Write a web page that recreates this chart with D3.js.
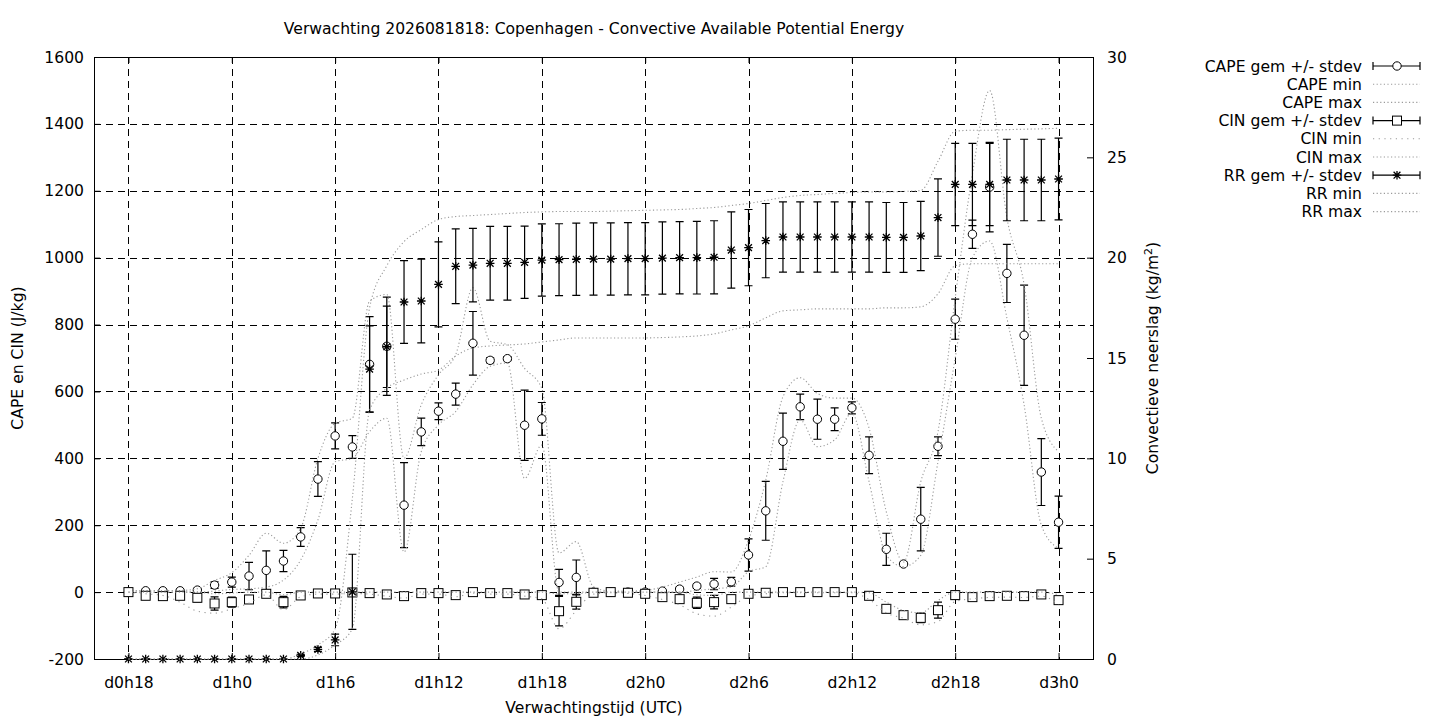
<!DOCTYPE html>
<html>
<head>
<meta charset="utf-8">
<script src="https://cdn.jsdelivr.net/npm/d3@7/dist/d3.min.js"></script>
<style>
  html, body { margin: 0; padding: 0; background: #fff; }
  svg { display: block; font-family: "DejaVu Sans", sans-serif; }
</style>
</head>
<body>
<svg id="chart" width="1440" height="720"></svg>
<script>
// ---- data (hourly, forecast hours since d0h0) ----
const hours = [18,19,20,21,22,23,24,25,26,27,28,29,30,31,32,33,34,35,36,37,38,39,40,41,42,43,44,45,46,47,48,49,50,51,52,53,54,55,56,57,58,59,60,61,62,63,64,65,66,67,68,69,70,71,72];
const tickHours = [18,24,30,36,42,48,54,60,66,72];
const tickLabels = ["d0h18","d1h0","d1h6","d1h12","d1h18","d2h0","d2h6","d2h12","d2h18","d3h0"];
const leftTicks = [-200,0,200,400,600,800,1000,1200,1400,1600];
const rightTicks = [0,5,10,15,20,25,30];

const capeMean = [0,4,4,4,6,21,30,48,65,93,165,338,467,434,681,735,260,479,541,592,744,693,698,499,518,29,44,0,0,0,0,3,9,18,24,31,111,243,451,554,517,517,551,409,128,84,218,436,816,1070,1211,953,768,359,209];
const capeSd   = [0,3,3,3,5,10,15,41,58,32,28,52,39,34,143,147,127,41,25,33,95,8,6,105,49,39,52,1,1,1,1,3,5,6,17,13,48,88,84,38,60,34,18,55,48,5,95,28,60,42,134,87,150,100,78];
const capeMin  = [0,0,0,0,0,3,8,10,15,36,96,216,390,400,480,520,120,420,500,540,620,675,685,340,440,0,0,0,0,0,0,0,0,5,10,15,61,76,330,515,435,455,535,330,110,76,110,390,700,1000,1050,820,560,200,130];
const capeMax  = [5,5,5,5,10,35,58,110,176,146,191,400,505,520,870,890,400,560,650,710,910,750,740,669,609,117,151,16,3,3,5,15,30,45,61,60,156,335,584,641,594,580,580,490,240,90,330,480,880,1250,1500,1120,920,520,420];

const cinMean = [0,-11,-12,-11,-17,-34,-30,-22,-5,-30,-10,-4,-4,-1,-3,-7,-12,-3,-3,-9,0,-3,-3,-7,-9,-57,-29,-2,0,-2,-5,-15,-21,-32,-30,-21,-5,-2,0,0,0,0,0,-11,-50,-69,-77,-54,-9,-15,-12,-11,-12,-7,-24];
const cinSd   = [0,3,4,4,12,20,15,10,4,17,3,2,2,2,2,3,4,2,2,3,2,2,2,3,3,44,22,2,1,1,3,5,6,17,20,10,3,2,1,1,1,1,1,3,8,4,14,24,13,4,3,3,3,4,10];
const cinMin  = [0,-5,-10,-30,-57,-63,-50,-33,-8,-53,-14,-6,-6,-4,-6,-12,-18,-6,-6,-14,-3,-6,-6,-12,-20,-110,-55,-6,-2,-4,-10,-22,-38,-65,-72,-45,-12,-5,-2,-2,-2,-2,-2,-22,-62,-78,-98,-88,-28,-20,-16,-15,-16,-12,-38];
const cinMax  = [0,0,0,0,0,-5,-3,0,0,-8,0,0,0,0,0,0,0,0,0,0,0,0,0,0,0,-5,-5,0,0,0,0,0,0,-8,-10,0,0,0,0,0,0,0,0,-2,-30,-55,-62,-25,0,0,0,0,0,0,-8];

const rrMean = [0,0,0,0,0,0,0,0,0,0,0.18,0.48,0.95,3.35,14.45,15.56,17.79,17.84,18.67,19.57,19.63,19.72,19.72,19.77,19.88,19.9,19.92,19.93,19.93,19.95,19.95,19.98,20.0,20.0,20.02,20.38,20.5,20.85,21.03,21.03,21.03,21.03,21.03,21.03,21.01,21.01,21.08,22.0,23.65,23.65,23.65,23.87,23.87,23.87,23.92];
const rrSd   = [0,0,0,0,0,0,0,0,0,0,0.05,0.1,0.29,1.87,2.15,2.03,2.06,2.09,2.12,1.86,1.83,1.84,1.84,1.8,1.8,1.79,1.8,1.8,1.8,1.8,1.8,1.8,1.8,1.81,1.82,1.9,1.9,1.85,1.75,1.75,1.75,1.75,1.75,1.75,1.74,1.74,1.73,1.93,2.05,2.05,2.05,2.03,2.03,2.03,2.04];
const rrMin  = [0,0,0,0,0,0,0,0,0,0,0,0.2,0.7,1.5,12.4,13.5,13.9,14.2,14.4,15.1,15.5,15.6,15.65,15.7,15.8,15.9,16.0,16.0,16.0,16.0,16.0,16.02,16.05,16.1,16.2,16.4,16.6,17.0,17.35,17.4,17.45,17.45,17.45,17.45,17.5,17.5,17.55,18.2,19.6,19.7,19.7,19.7,19.7,19.7,19.7];
const rrMax  = [0,0,0,0,0,0,0,0,0,0,0.25,0.7,1.5,8,17.5,19.6,20.8,21.4,21.9,22.05,22.1,22.15,22.2,22.25,22.28,22.3,22.3,22.3,22.32,22.34,22.36,22.38,22.4,22.45,22.5,22.6,22.7,22.85,23.0,23.1,23.15,23.2,23.25,23.28,23.28,23.3,23.35,24.8,26.3,26.35,26.35,26.38,26.4,26.42,26.45];

// ---- layout ----
const L = 94, R = 1093, T = 57, B = 659;
const svg = d3.select("#chart");
const x = d3.scaleLinear().domain([16, 74]).range([L, R]);
const y = d3.scaleLinear().domain([-200, 1600]).range([B, T]);
const y2 = d3.scaleLinear().domain([0, 30]).range([B, T]);
const FS = 15.6;
const plainNum = d => String(d);

// grid
const grid = svg.append("g").attr("stroke", "#000").attr("stroke-width", 1).attr("stroke-dasharray", "7,5");
tickHours.forEach(h => grid.append("line").attr("x1", Math.round(x(h)) + 0.5).attr("x2", Math.round(x(h)) + 0.5).attr("y1", T).attr("y2", B));
leftTicks.forEach(v => {
  if (v === -200 || v === 1600) return;
  grid.append("line").attr("x1", L).attr("x2", R).attr("y1", Math.round(y(v)) + 0.5).attr("y2", Math.round(y(v)) + 0.5);
});

// axes with d3 axis generators (inward ticks)
const axL = svg.append("g").attr("transform", `translate(${L},0)`)
  .call(d3.axisLeft(y).tickValues(leftTicks).tickFormat(plainNum).tickSizeInner(-6).tickSizeOuter(0).tickPadding(10));
const axR = svg.append("g").attr("transform", `translate(${R},0)`)
  .call(d3.axisRight(y2).tickValues(rightTicks).tickFormat(plainNum).tickSizeInner(-6).tickSizeOuter(0).tickPadding(14));
const axB = svg.append("g").attr("transform", `translate(0,${B})`)
  .call(d3.axisBottom(x).tickValues(tickHours).tickFormat((d, i) => tickLabels[i]).tickSizeInner(-6).tickSizeOuter(0).tickPadding(18));
const axT = svg.append("g").attr("transform", `translate(0,${T})`)
  .call(d3.axisTop(x).tickValues(tickHours).tickFormat("").tickSizeInner(-6).tickSizeOuter(0));
[axL, axR, axB, axT].forEach(g => {
  g.select(".domain").remove();
  g.selectAll("text").attr("font-size", FS).attr("font-family", "DejaVu Sans").attr("fill", "#000");
  g.selectAll("line").attr("stroke", "#000");
});
svg.append("rect").attr("x", L + 0.5).attr("y", T + 0.5).attr("width", R - L).attr("height", B - T)
  .attr("fill", "none").attr("stroke", "#000").attr("stroke-width", 1);

// marker drawers
function drawMarker(g, type, cx, cy) {
  if (type === "circle") {
    g.append("circle").attr("cx", cx).attr("cy", cy).attr("r", 4.2).attr("fill", "#fff").attr("stroke", "#000").attr("stroke-width", 1);
  } else if (type === "square") {
    g.append("rect").attr("x", cx - 4.5).attr("y", cy - 4.5).attr("width", 9).attr("height", 9).attr("fill", "#fff").attr("stroke", "#000").attr("stroke-width", 1);
  } else {
    const s = 4.3, d = 3.4;
    const p = `M${cx - s},${cy}H${cx + s}M${cx},${cy - s}V${cy + s}M${cx - d},${cy - d}L${cx + d},${cy + d}M${cx - d},${cy + d}L${cx + d},${cy - d}`;
    g.append("path").attr("d", p).attr("stroke", "#000").attr("stroke-width", 1.3).attr("fill", "none");
  }
}
function errorBars(mean, sd, scale, type) {
  const g = svg.append("g");
  hours.forEach((h, i) => {
    const cx = x(h), yt = scale(mean[i] + sd[i]), yb = scale(mean[i] - sd[i]);
    g.append("path").attr("d", `M${cx},${yt}V${yb}M${cx - 4},${yt}H${cx + 4}M${cx - 4},${yb}H${cx + 4}`)
      .attr("stroke", "#000").attr("stroke-width", 1.2).attr("fill", "none");
    drawMarker(g, type, cx, scale(mean[i]));
  });
}
function dotted(vals, scale, dash) {
  const line = d3.line().x((d, i) => x(hours[i])).y(d => scale(d)).curve(d3.curveMonotoneX);
  svg.append("path").attr("d", line(vals)).attr("fill", "none").attr("stroke", "#9a9a9a")
    .attr("stroke-width", 1.1).attr("stroke-dasharray", dash);
}

errorBars(capeMean, capeSd, y, "circle");
dotted(capeMin, y, "1.2,2.4");
dotted(capeMax, y, "1.2,2.4");
errorBars(cinMean, cinSd, y, "square");
dotted(cinMin, y, "1.2,4.5");
dotted(cinMax, y, "1.2,2.4");
errorBars(rrMean, rrSd, y2, "asterisk");
dotted(rrMin, y2, "1.2,2.4");
dotted(rrMax, y2, "1.2,2.4");

// titles
svg.append("text").attr("x", 594).attr("y", 34).attr("text-anchor", "middle").attr("font-size", FS).text("Verwachting 2026081818: Copenhagen - Convective Available Potential Energy");
svg.append("text").attr("x", 594).attr("y", 713).attr("text-anchor", "middle").attr("font-size", FS).text("Verwachtingstijd (UTC)");
svg.append("text").attr("transform", "translate(23,358) rotate(-90)").attr("text-anchor", "middle").attr("font-size", FS).text("CAPE en CIN (J/kg)");
const rt = svg.append("text").attr("transform", "translate(1158,358) rotate(-90)").attr("text-anchor", "middle").attr("font-size", FS);
rt.append("tspan").text("Convectieve neerslag (kg/m");
rt.append("tspan").attr("baseline-shift", "super").attr("font-size", 11).text("2");
rt.append("tspan").text(")");

// legend
const legendItems = [
  {label: "CAPE gem +/- stdev", type: "circle"},
  {label: "CAPE min", dash: "1.2,2.4"},
  {label: "CAPE max", dash: "1.2,2.4"},
  {label: "CIN gem +/- stdev", type: "square"},
  {label: "CIN min", dash: "1.2,4.5"},
  {label: "CIN max", dash: "1.2,2.4"},
  {label: "RR gem +/- stdev", type: "asterisk"},
  {label: "RR min", dash: "1.2,2.4"},
  {label: "RR max", dash: "1.2,2.4"}
];
const lg = svg.append("g");
legendItems.forEach((it, i) => {
  const cy = 66 + i * 18.2;
  lg.append("text").attr("x", 1362).attr("y", cy + 5.5).attr("text-anchor", "end").attr("font-size", FS).text(it.label);
  if (it.type) {
    lg.append("path").attr("d", `M1373,${cy}H1420M1373,${cy - 4}V${cy + 4}M1420,${cy - 4}V${cy + 4}`)
      .attr("stroke", "#000").attr("stroke-width", 1.2).attr("fill", "none");
    drawMarker(lg, it.type, 1397, cy);
  } else {
    lg.append("line").attr("x1", 1373).attr("x2", 1420).attr("y1", cy).attr("y2", cy)
      .attr("stroke", "#9a9a9a").attr("stroke-width", 1.1).attr("stroke-dasharray", it.dash);
  }
});
</script>
</body>
</html>
